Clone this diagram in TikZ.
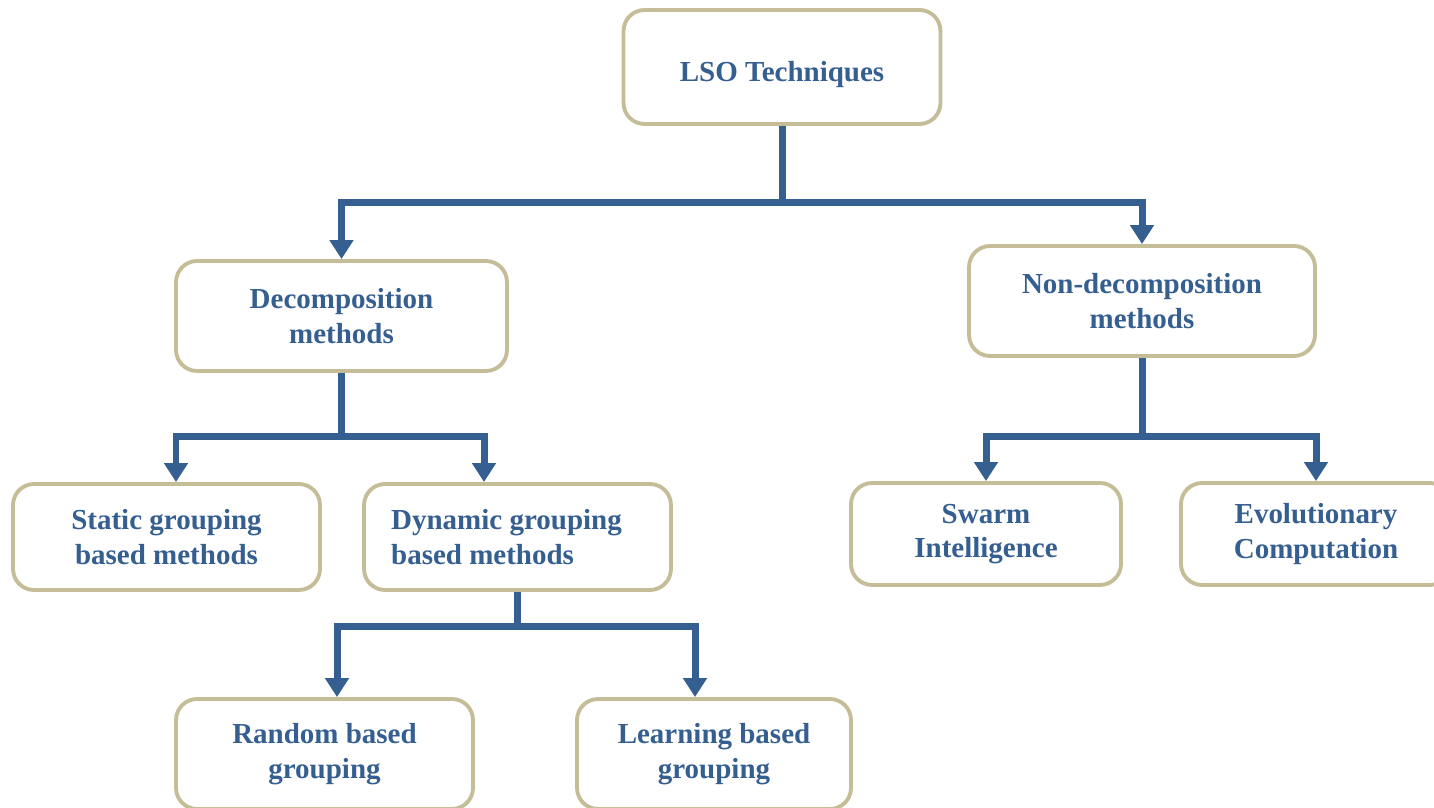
\documentclass[tikz,border=0pt]{standalone}
\usepackage{fontspec}
\setmainfont{Liberation Serif}
\usetikzlibrary{arrows.meta}
\definecolor{lsoblue}{HTML}{365F91}
\definecolor{lsotan}{HTML}{C4BD97}
\begin{document}
\begin{tikzpicture}[x=0.02cm,y=0.02cm,
	box/.style={draw=lsotan,line width=2.2pt,rounded corners=0.42cm,fill=white,
		text=lsoblue,align=center,inner sep=0pt,
		font=\fontsize{16.5}{19.6}\selectfont\bfseries},
	conn/.style={draw=lsoblue,line width=0.14cm},
	>={Triangle[width=0.46cm,length=0.38cm]}]
	\useasboundingbox (0,0) rectangle (1434,808);
	\clip (0,0) rectangle (1434,808);
	% boxes
	\node[box,minimum width=6.34cm,minimum height=2.28cm,text height=20pt,text depth=3.6pt] (lso) at (782,741) {LSO Techniques};
	\node[box,minimum width=6.62cm,minimum height=2.2cm] (decomp) at (341.5,492) {Decomposition\\methods};
	\node[box,minimum width=6.92cm,minimum height=2.2cm] (nondec) at (1142,507) {Non-decomposition\\methods};
	\node[box,minimum width=6.14cm,minimum height=2.12cm] (static) at (166.5,271) {Static grouping\\based methods};
	\node[box,minimum width=6.14cm,minimum height=2.12cm,align=left] (dynamic) at (517.5,271) {Dynamic grouping\hspace*{0.44cm}\\based methods};
	\node[box,minimum width=5.4cm,minimum height=2.04cm] (swarm) at (986,274) {Swarm\\Intelligence};
	\node[box,minimum width=5.4cm,minimum height=2.04cm] (evol) at (1316,274) {Evolutionary\\Computation};
	\node[box,minimum width=5.94cm,minimum height=2.2cm] (random) at (324.5,54) {Random based\\grouping};
	\node[box,minimum width=5.48cm,minimum height=2.2cm] (learn) at (714,54) {Learning based\\grouping};
	% branch levels
	\coordinate (bus1) at (0,605);
	\coordinate (bus2) at (0,371);
	\coordinate (bus3) at (0,181);
	% connectors
	\draw[conn] (lso.south) -- (lso.south |- bus1);
	\draw[conn,->] (lso.south |- bus1) -| (decomp.north);
	\draw[conn,->] (lso.south |- bus1) -| (nondec.north);
	\draw[conn] (decomp.south) -- (decomp.south |- bus2);
	\draw[conn,->] (decomp.south |- bus2) -| ([xshift=0.19cm]static.north);
	\draw[conn,->] (decomp.south |- bus2) -| ([xshift=-0.67cm]dynamic.north);
	\draw[conn] (nondec.south) -- (nondec.south |- bus2);
	\draw[conn,->] (nondec.south |- bus2) -| (swarm.north);
	\draw[conn,->] (nondec.south |- bus2) -| (evol.north);
	\draw[conn] (dynamic.south) -- (dynamic.south |- bus3);
	\draw[conn,->] (dynamic.south |- bus3) -| ([xshift=0.25cm]random.north);
	\draw[conn,->] (dynamic.south |- bus3) -| ([xshift=-0.38cm]learn.north);
\end{tikzpicture}
\end{document}
